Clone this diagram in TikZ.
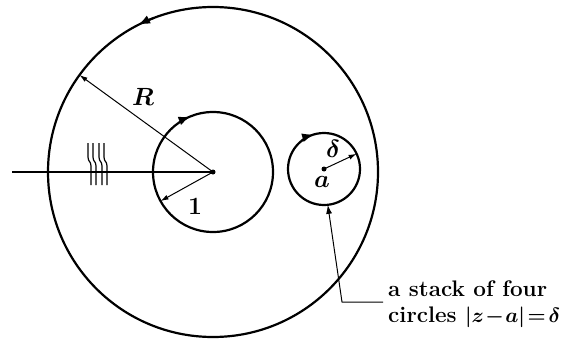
\documentclass[tikz,border=0pt]{standalone}
\usetikzlibrary{arrows.meta}
\begin{document}
\begin{tikzpicture}[x=1pt,y=1pt,
  ring/.style={circle,draw,line width=2.2pt,inner sep=0pt,outer sep=0pt},
  radius arrow/.style={line width=1pt,-{Latex[length=8pt,width=5pt]}},
  flow/.style={line width=2pt,-{Latex[length=12pt,width=9pt]}},
  lbl/.style={font=\fontsize{25}{28}\selectfont\boldmath},
  note/.style={font=\fontsize{22.5}{26}\selectfont\bfseries\boldmath,inner sep=0pt,anchor=base west}]
\useasboundingbox (0,0) rectangle (585,338);
% centres
\coordinate (c0) at (213,166);
\coordinate (ca) at (324,169);
\coordinate (lf) at (12,166);
% circles
\node[ring,minimum size=330pt] (outer) at (c0) {};
\node[ring,minimum size=120pt] (inner) at (c0) {};
\node[ring,minimum size=72pt] (small) at (ca) {};
% orientation arrows
\draw[flow] (outer.111) arc[start angle=111,end angle=117,radius=165pt];
\draw[flow] (inner.124) arc[start angle=124,end angle=112,radius=60pt];
\draw[flow] (small.128) arc[start angle=128,end angle=106,radius=36pt];
% cut line
\draw[line width=1.2pt] (lf) -- (c0);
\foreach \x in {88,93,99,104}{
  \draw[line width=1.2pt] (\x,195) -- (\x,181) .. controls (\x,176) and (\x+3,177) .. (\x+3,172) -- (\x+3,153);
}
% centre dots
\fill (c0) circle[radius=2.5pt];
\fill (ca) circle[radius=2.5pt];
% radii
\draw[radius arrow] (c0) -- (outer.144);
\draw[radius arrow] (c0) -- (inner.209);
\draw[radius arrow] (ca) -- (small.25);
% labels
\node[lbl] (lR) at (143,241) {$R$};
\node[lbl] (l1) at (195,132) {$1$};
\node[lbl] (ld) at (333,189) {$\delta$};
\node[lbl] (la) at (322,156) {$a$};
% pointer
\coordinate (bend) at (342,36);
\coordinate (tail) at (383,36);
\draw[line width=1pt,-{Latex[length=9pt,width=6pt]}] (tail) -- (bend) -- (small.276);
\node[note] (n1) at (388,42) {a stack of four};
\node[note] (n2) at (388,16) {circles $\medmuskip=1mu\thickmuskip=2mu |z-a|=\delta$};
\end{tikzpicture}
\end{document}
